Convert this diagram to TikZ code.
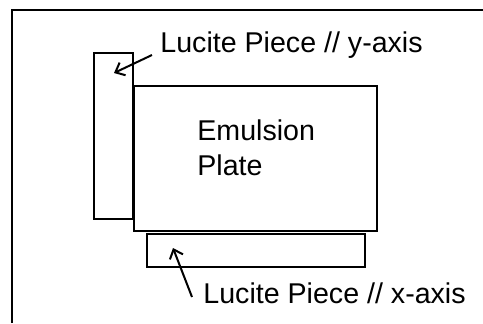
\documentclass[tikz,border=0pt]{standalone}
\usepackage{fontspec}
\setmainfont{Liberation Sans}
\usetikzlibrary{arrows.meta}
\tikzset{
  piece/.style={line width=1bp},
  lbl/.style={font=\fontsize{14.3bp}{17.5bp}\selectfont,inner sep=0pt,anchor=base west},
  arr/.style={line width=1bp,-{Straight Barb[length=4bp,width=7bp,line width=1bp]}}
}

\begin{document}
\begin{tikzpicture}[x=0.5bp,y=-0.5bp]
\useasboundingbox (0,0) rectangle (483,323);
% outer frame (only left and top edge are in view)
\draw[line width=1bp] (12,323)--(12,10)--(483,10);
% lucite pieces and emulsion plate
\draw[piece] (94,53) rectangle (133,219);
\draw[piece] (134,86) rectangle (377,231);
\draw[piece] (147,234) rectangle (365,267);
\node[lbl,align=left] (plate) at (197,175) {Emulsion\\Plate};
\node[lbl] (ylabel) at (160,52) {Lucite Piece // y-axis};
\node[lbl] (xlabel) at (203,303) {Lucite Piece // x-axis};
\coordinate (ytip) at (114,73);
\coordinate (xtip) at (173,248);
\draw[arr] ([xshift=-4bp,yshift=-1.5bp]ylabel.base west)--(ytip);
\draw[arr] ([xshift=-5.5bp,yshift=3bp]xlabel.base west)--(xtip);
\end{tikzpicture}
\end{document}
